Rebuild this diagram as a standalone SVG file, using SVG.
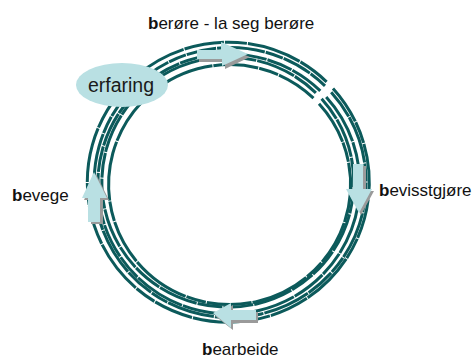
<svg xmlns="http://www.w3.org/2000/svg" width="473" height="360" viewBox="0 0 473 360">
<style>
  .ring{fill:none;stroke:#0c5a5b;stroke-width:3}
  .arr{fill:#b9e0e3}
  .shd{fill:#9a9a9a}
  .lbl{font-family:"Liberation Sans",Arial,sans-serif;font-size:17px;fill:#111}
  .b{font-weight:bold}
</style>
<rect width="473" height="360" fill="#ffffff"/>
<g id="connectors">
  <path class="ring" stroke-dasharray="40 1 22 1 55 1" d="M333.0,88.4 A141,140 0 1 1 326.6,81.8"/>
  <path class="ring" stroke-dasharray="30 1 48 1 18 1" d="M331.2,92.2 A136,135 0 1 1 325.0,85.8"/>
  <path class="ring" stroke-dasharray="52 1 26 1 35 1" d="M326.2,97.0 A131,130 0 1 1 320.3,90.9"/>
  <path class="ring" stroke-dasharray="25 1 40 1 30 1" d="M321.6,98.7 A126,125 0 1 1 315.9,92.8"/>
  <path class="ring" stroke-dasharray="45 1 20 1 60 1" d="M319.0,103.7 A121,120 0 1 1 313.5,98.1"/>
</g>
<g id="arrow-top">
  <polygon class="shd" points="199,53 223,53 223,46 250,57 225,69 225,62 199,62"/>
  <polygon class="arr" points="197,50 221,50 221,42 248,54 222,66 222,59 197,59"/>
</g>
<g id="arrow-right">
  <polygon class="shd" points="356,166 366,166 366,191 374,191 361,215 348,191 356,191"/>
  <polygon class="arr" points="353,164 363,164 363,189 372,189 359,213 346,189 353,189"/>
</g>
<g id="arrow-bottom">
  <polygon class="shd" points="258,312 258,323 233,323 233,330 215,316 233,305 233,312"/>
  <polygon class="arr" points="256,310 256,320 231,320 231,328 213,313 231,303 231,310"/>
</g>
<g id="arrow-left">
  <polygon class="shd" points="91,224 103,224 103,200 109,200 96,174 84,200 91,200"/>
  <polygon class="arr" points="88,222 100,222 100,198 107,198 94,172 82,198 88,198"/>
</g>
<g id="node-erfaring">
  <ellipse cx="122" cy="85" rx="46" ry="22" fill="#b9e0e3"/>
  <text x="121" y="92" text-anchor="middle" font-family="Liberation Sans, Arial, sans-serif" font-size="19.5" fill="#1a1a1a">erfaring</text>
</g>
<g id="label-berore">
  <text class="lbl" x="148" y="29"><tspan class="b">b</tspan>erøre - la seg berøre</text>
</g>
<g id="label-bevisstgjore">
  <text class="lbl" x="379" y="196"><tspan class="b">b</tspan>evisstgjøre</text>
</g>
<g id="label-bearbeide">
  <text class="lbl" x="202" y="355"><tspan class="b">b</tspan>earbeide</text>
</g>
<g id="label-bevege">
  <text class="lbl" x="12" y="201"><tspan class="b">b</tspan>evege</text>
</g>
</svg>
